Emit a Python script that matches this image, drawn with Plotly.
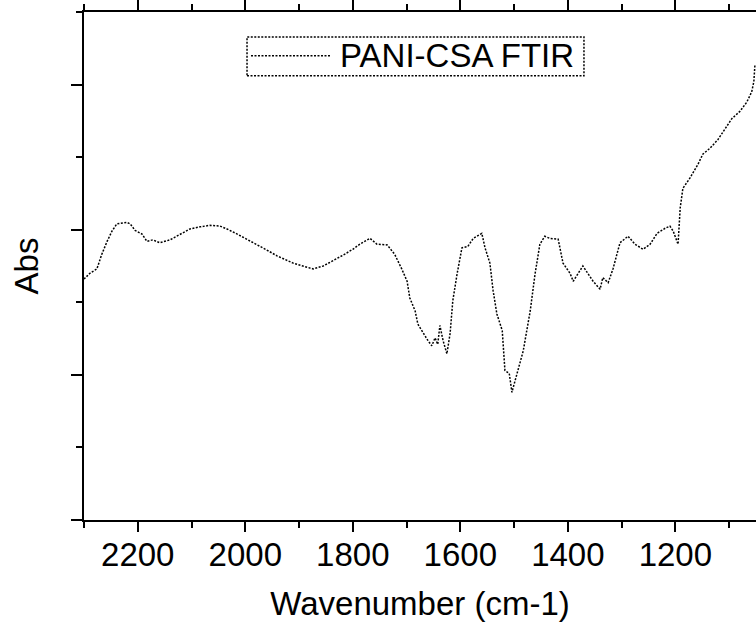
import plotly.graph_objects as go

# Wavenumber (cm-1) and absorbance (arbitrary units)
wavenumber = [2300, 2289, 2276, 2267, 2257, 2248, 2239, 2229, 2220, 2214, 2205, 2192,
              2183, 2172, 2159, 2140, 2121, 2103, 2084, 2066, 2047, 2034, 2015, 1997,
              1978, 1960, 1941, 1911, 1893, 1874, 1855, 1837, 1818, 1800, 1787, 1768,
              1755, 1736, 1722, 1709, 1699, 1694, 1684, 1679, 1669, 1660, 1653, 1647,
              1642, 1638, 1632, 1625, 1619, 1614, 1606, 1597, 1586, 1576, 1560, 1554,
              1545, 1539, 1532, 1522, 1517, 1509, 1504, 1495, 1483, 1470, 1461, 1452,
              1443, 1433, 1418, 1409, 1396, 1390, 1381, 1372, 1363, 1353, 1340, 1335,
              1325, 1316, 1303, 1288, 1275, 1260, 1247, 1234, 1219, 1210, 1204, 1195,
              1191, 1186, 1173, 1158, 1149, 1136, 1121, 1108, 1095, 1080, 1067, 1058,
              1054, 1052]
absorbance = [3.32, 3.40, 3.46, 3.66, 3.84, 3.98, 4.08, 4.09, 4.10, 4.08, 3.99, 3.94,
              3.84, 3.86, 3.82, 3.86, 3.94, 4.01, 4.04, 4.06, 4.05, 4.01, 3.94, 3.87,
              3.79, 3.72, 3.64, 3.54, 3.50, 3.46, 3.50, 3.57, 3.65, 3.73, 3.80, 3.88,
              3.80, 3.79, 3.66, 3.46, 3.29, 3.06, 2.88, 2.70, 2.57, 2.47, 2.40, 2.51,
              2.42, 2.68, 2.47, 2.29, 2.57, 3.02, 3.39, 3.75, 3.77, 3.88, 3.95, 3.75,
              3.54, 3.16, 2.84, 2.61, 2.06, 2.02, 1.76, 2.02, 2.33, 2.88, 3.39, 3.80,
              3.91, 3.88, 3.87, 3.54, 3.40, 3.29, 3.40, 3.50, 3.40, 3.29, 3.18, 3.34,
              3.27, 3.46, 3.82, 3.91, 3.80, 3.73, 3.80, 3.95, 4.02, 4.05, 3.98, 3.80,
              4.30, 4.57, 4.71, 4.90, 5.04, 5.12, 5.24, 5.39, 5.53, 5.63, 5.76, 5.90,
              6.04, 6.27]

x_tick_values = [2200, 2000, 1800, 1600, 1400, 1200]
x_tick_labels = ["2200", "2000", "1800", "1600", "1400", "1200"]
series_name = "PANI-CSA FTIR"

FONT = "Liberation Sans, Arial, sans-serif"

fig = go.Figure()
fig.add_trace(go.Scatter(
    x=wavenumber, y=absorbance, mode="lines", name=series_name,
    line=dict(color="black", width=1.5, dash="2px,1.5px"),
    showlegend=False,
))

fig.update_layout(
    width=756, height=626,
    margin=dict(l=84, r=0, t=10, b=106),
    paper_bgcolor="white", plot_bgcolor="white",
    font=dict(family=FONT, size=33, color="black"),
    xaxis=dict(
        range=[2300, 1050], showgrid=False, zeroline=False,
        showline=True, linewidth=2, linecolor="black", mirror="ticks",
        ticks="outside", ticklen=10, tickwidth=2, tickcolor="black",
        tickvals=x_tick_values, ticktext=x_tick_labels,
        ticklabelstandoff=-6,
        minor=dict(dtick=100, ticks="outside", ticklen=6, tickwidth=2, tickcolor="black"),
        title=dict(text="Wavenumber (cm-1)", font=dict(size=33), standoff=20),
        tickfont=dict(size=33),
    ),
    yaxis=dict(
        range=[0, 7], showgrid=False, zeroline=False,
        showline=True, linewidth=2, linecolor="black", mirror=False,
        ticks="outside", ticklen=11, tickwidth=2, tickcolor="black",
        tick0=0, dtick=2, showticklabels=False,
        minor=dict(dtick=1, ticks="outside", ticklen=6, tickwidth=2, tickcolor="black"),
        title=dict(text="Abs", font=dict(size=33), standoff=22),
    ),
    showlegend=False,
)

# Legend box drawn manually (long line sample as in the reference)
fig.add_shape(type="rect", xref="paper", yref="paper",
              x0=0.2426, x1=0.744, y0=0.8745, y1=0.951,
              line=dict(color="black", width=1.5, dash="2px,1.5px"), fillcolor="white")
fig.add_shape(type="line", xref="paper", yref="paper",
              x0=0.2485, x1=0.3676, y0=0.9137, y1=0.9137,
              line=dict(color="black", width=1.5, dash="2px,1.5px"))
fig.add_annotation(text=series_name, xref="paper", yref="paper",
                   x=0.378, y=0.9137, xanchor="left", yanchor="middle",
                   showarrow=False, font=dict(size=33, family=FONT, color="black"))

fig.write_html("out.html")
